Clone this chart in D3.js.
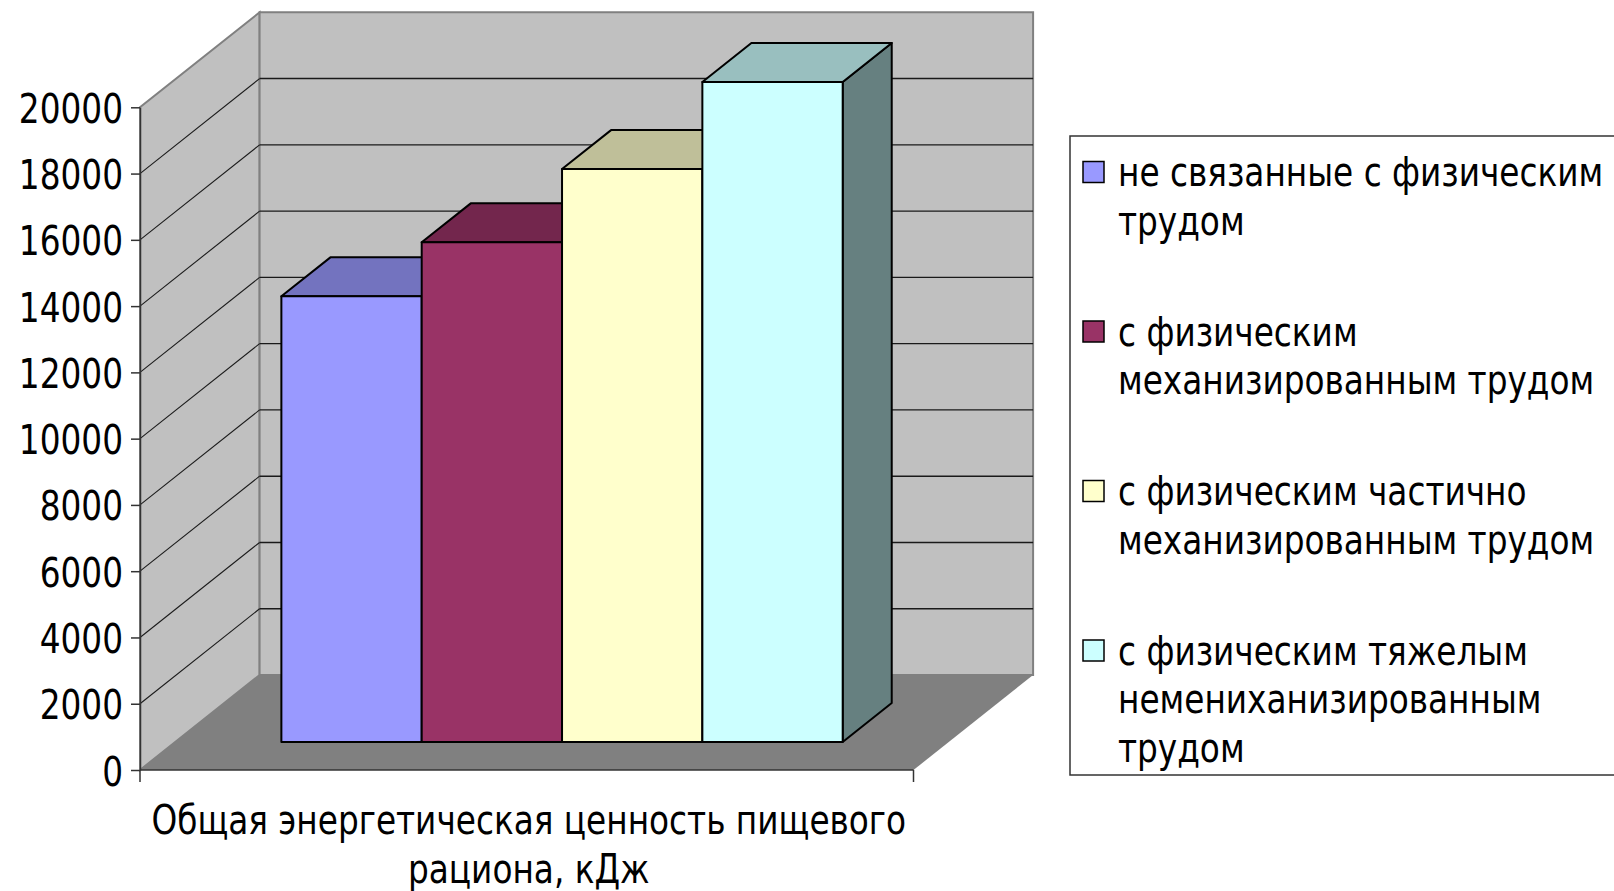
<!DOCTYPE html>
<html>
<head>
<meta charset="utf-8">
<script src="https://cdn.jsdelivr.net/npm/d3@7"></script>
<style>
  html, body { margin: 0; padding: 0; background: #fff; }
  svg { display: block; }
  text { font-family: "DejaVu Sans Condensed", "DejaVu Sans", sans-serif; font-stretch: condensed; fill: #000; }
</style>
</head>
<body>
<svg id="chart" width="1614" height="891"></svg>
<script>
// Category on the x axis
const categories = ["Общая энергетическая ценность пищевого рациона, кДж"];
const categoryLines = ["Общая энергетическая ценность пищевого", "рациона, кДж"];

// One series per group of workers
const seriesNames = [
  "не связанные с физическим трудом",
  "с физическим механизированным трудом",
  "с физическим частично механизированным трудом",
  "с физическим тяжелым немениханизированным трудом"
];
const seriesLines = [
  ["не связанные с физическим", "трудом"],
  ["с физическим", "механизированным трудом"],
  ["с физическим частично", "механизированным трудом"],
  ["с физическим тяжелым", "немениханизированным", "трудом"]
];
const seriesValues = [13450, 15080, 17290, 19920];
const seriesColors = ["#9999FF", "#993366", "#FFFFCC", "#CCFFFF"];

// Value axis
const yTicks = [0, 2000, 4000, 6000, 8000, 10000, 12000, 14000, 16000, 18000, 20000];

const svg = d3.select("#chart");

// Text is set a little narrow: full-height glyphs squeezed horizontally
const FONT = 40, SQUEEZE = 0.91;

// Front plane of the 3-D box and the depth offset of its back plane
const front = { left: 140, right: 913.5, bottom: 770, top: 107.3 };
const DX = 119.6, DY = 95;
const barFront = 0.295, barBack = 0.705;

const y = d3.scaleLinear().domain([0, 20000]).range([front.bottom, front.top]);
const x0 = d3.scaleBand().domain(categories).range([front.left, front.right]).paddingOuter(0.189).paddingInner(0);
const x1 = d3.scaleBand().domain(seriesNames).range([0, x0.bandwidth()]).padding(0);
const color = d3.scaleOrdinal().domain(seriesNames).range(seriesColors);

// project a point on the front plane (X, value) back to depth d (0..1)
const P = (X, v, d) => [X + d * DX, y(v) - d * DY];
const poly = pts => "M" + pts.map(p => p.join(",")).join("L") + "Z";
const shade = (c, k) => { const r = d3.rgb(c); return d3.rgb(r.r * k, r.g * k, r.b * k).formatHex(); };
const squeezeAt = (tx, ty) => `translate(${tx},${ty}) scale(${SQUEEZE},1)`;

const yMax = y.domain()[1];

// side wall
svg.append("path")
  .attr("d", poly([P(front.left, 0, 0), P(front.left, yMax, 0), P(front.left, yMax, 1), P(front.left, 0, 1)]))
  .attr("fill", "#C0C0C0").attr("stroke", "#808080").attr("stroke-width", 2);

// back wall
svg.append("path")
  .attr("d", poly([P(front.left, 0, 1), P(front.left, yMax, 1), P(front.right, yMax, 1), P(front.right, 0, 1)]))
  .attr("fill", "#C0C0C0").attr("stroke", "#808080").attr("stroke-width", 2);

// floor
svg.append("path")
  .attr("d", poly([P(front.left, 0, 0), P(front.right, 0, 0), P(front.right, 0, 1), P(front.left, 0, 1)]))
  .attr("fill", "#808080").attr("stroke", "none");

// gridlines on the side and back walls
const gridVals = yTicks.filter(v => v > 0 && v < yMax);
const grid = svg.append("g").attr("fill", "none").attr("stroke", "#1a1a1a");
grid.selectAll("path.side").data(gridVals).join("path").attr("class", "side")
  .attr("stroke-width", 1.1)
  .attr("d", v => "M" + P(front.left, v, 0).join(",") + "L" + P(front.left, v, 1).join(","));
grid.selectAll("path.back").data(gridVals).join("path").attr("class", "back")
  .attr("stroke-width", 1.4)
  .attr("d", v => "M" + P(front.left, v, 1).join(",") + "L" + P(front.right, v, 1).join(","));

// value axis
const yAxis = svg.append("g")
  .attr("transform", `translate(${front.left},0)`)
  .call(d3.axisLeft(y).tickValues(yTicks).tickSize(9).tickSizeOuter(0).tickPadding(13).tickFormat(d3.format("d")));
yAxis.select(".domain").attr("stroke", "#333").attr("stroke-width", 1.5);
yAxis.selectAll(".tick line").attr("stroke", "#333").attr("stroke-width", 1.5);
yAxis.selectAll(".tick text")
  .attr("x", 0).attr("dy", null).attr("y", 0)
  .attr("transform", squeezeAt(-17, 15))
  .attr("font-size", FONT)
  .style("font-family", "\"DejaVu Sans Condensed\", \"DejaVu Sans\", sans-serif");

// category axis along the floor's front edge
const xg = svg.append("g");
xg.append("line")
  .attr("x1", front.left).attr("x2", front.right).attr("y1", front.bottom).attr("y2", front.bottom)
  .attr("stroke", "#333").attr("stroke-width", 1.5);
xg.selectAll("line.tk").data(x0.range()).join("line").attr("class", "tk")
  .attr("x1", d => d).attr("x2", d => d).attr("y1", front.bottom).attr("y2", front.bottom + 12)
  .attr("stroke", "#333").attr("stroke-width", 1.5);
const cx = x0(categories[0]) + x0.bandwidth() / 2;
xg.selectAll("text").data(categoryLines).join("text")
  .attr("transform", (d, i) => squeezeAt(cx + 2, 834 + i * 49))
  .attr("text-anchor", "middle").attr("font-size", FONT)
  .text(d => d);

// 3-D columns
const bars = svg.append("g").attr("stroke", "#000").attr("stroke-width", 2).attr("stroke-linejoin", "round");
seriesNames.forEach((s, i) => {
  const xl = x0(categories[0]) + x1(s);
  const xr = xl + x1.bandwidth();
  const v = seriesValues[i];
  const c = color(s);
  bars.append("path").attr("fill", shade(c, 0.5))
    .attr("d", poly([P(xr, 0, barFront), P(xr, v, barFront), P(xr, v, barBack), P(xr, 0, barBack)]));
  bars.append("path").attr("fill", shade(c, 0.75))
    .attr("d", poly([P(xl, v, barFront), P(xr, v, barFront), P(xr, v, barBack), P(xl, v, barBack)]));
  bars.append("path").attr("fill", c)
    .attr("d", poly([P(xl, 0, barFront), P(xr, 0, barFront), P(xr, v, barFront), P(xl, v, barFront)]));
});

// legend
const legend = svg.append("g");
legend.append("rect")
  .attr("x", 1070).attr("y", 136).attr("width", 600).attr("height", 639)
  .attr("fill", "#fff").attr("stroke", "#333").attr("stroke-width", 1.5);
const item = legend.selectAll("g.item").data(seriesNames).join("g").attr("class", "item")
  .attr("transform", (d, i) => `translate(0,${i * 159.5})`);
item.append("rect")
  .attr("x", 1083).attr("y", 161.5).attr("width", 21).attr("height", 21)
  .attr("fill", d => color(d)).attr("stroke", "#000").attr("stroke-width", 1.5);
item.each(function(d, i) {
  d3.select(this).selectAll("text").data(seriesLines[i]).join("text")
    .attr("transform", (t, j) => squeezeAt(1118, 186 + j * 48.5))
    .attr("font-size", FONT)
    .text(t => t);
});
</script>
</body>
</html>
